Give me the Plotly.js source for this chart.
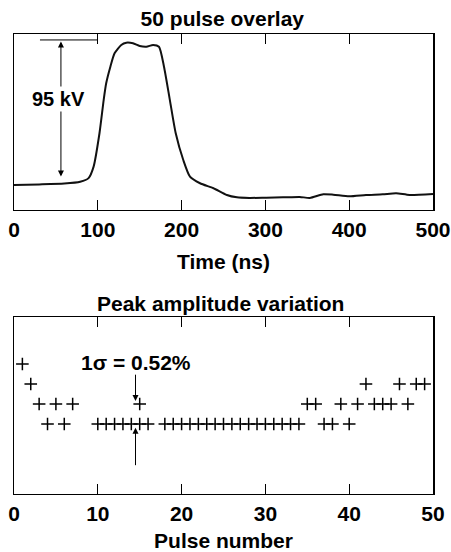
<!DOCTYPE html>
<html>
<head>
<meta charset="utf-8">
<script src="https://cdn.plot.ly/plotly-3.0.1.min.js"></script>
<style>html,body{margin:0;padding:0;background:#fff;}#chart{width:451px;height:552px;}</style>
</head>
<body>
<div id="chart"></div>
<script>
// Top panel: 50 pulse overlay (time in ns, voltage in kV relative to baseline)
const timeNs = [0, 30, 60, 79, 89, 95, 102, 107, 110, 115, 120, 128, 134, 142, 150, 158, 166, 173, 179, 186, 193, 202, 210, 222, 238, 254, 266, 281, 301, 321, 341, 353, 369, 381, 400, 420, 440, 456, 472, 500];
const voltageKV = [-0.7, -0.3, 0.3, 1.5, 4, 11.8, 34.5, 57.1, 68.5, 79.8, 88.9, 94.6, 96.1, 95.7, 93.9, 93.4, 94.6, 93.4, 79.8, 57.1, 34.5, 16.3, 5.0, 0.5, -2.9, -7.5, -9.1, -9.5, -9.3, -9.1, -8.8, -9.5, -7.0, -7.3, -8.4, -7.5, -7.0, -6.3, -7.5, -6.8];
const timeTicks = [0, 100, 200, 300, 400, 500];

// Bottom panel: peak amplitude variation (deviation in %, lowest row = 0)
const pulseNumber = [1, 2, 3, 4, 5, 6, 7, 10, 11, 12, 13, 14, 15, 16, 15,
  18, 19, 20, 21, 22, 23, 24, 25, 26, 27, 28, 29, 30, 31, 32, 33, 34,
  35, 36, 37, 38, 39, 40, 41, 42, 43, 44, 45, 46, 47, 48, 49];
const peakDeviation = [1.56, 1.04, 0.52, 0, 0.52, 0, 0.52, 0, 0, 0, 0, 0, 0, 0, 0.52,
  0, 0, 0, 0, 0, 0, 0, 0, 0, 0, 0, 0, 0, 0, 0, 0, 0,
  0.52, 0.52, 0, 0, 0.52, 0, 0.52, 1.04, 0.52, 0.52, 0.52, 1.04, 0.52, 1.04, 1.04];
const pulseTicks = [0, 10, 20, 30, 40, 50];

const FONT = 'Liberation Sans, Arial, sans-serif';
const boldFont = (size) => ({family: FONT, size: size, color: '#000', weight: 'bold'});

const traces = [
  {x: timeNs, y: voltageKV, type: 'scatter', mode: 'lines', xaxis: 'x', yaxis: 'y',
   line: {color: '#111', width: 2, shape: 'spline', smoothing: 0.6}, hoverinfo: 'skip', showlegend: false},
  {x: pulseNumber, y: peakDeviation, type: 'scatter', mode: 'markers', xaxis: 'x2', yaxis: 'y2',
   marker: {symbol: 'cross-thin', size: 9, line: {color: '#000', width: 1.5}}, showlegend: false}
];

const xCommon = {
  showline: true, mirror: 'ticks', linecolor: '#000', linewidth: 1.5,
  ticks: 'inside', ticklen: 10, tickwidth: 1, tickcolor: '#000',
  showgrid: false, zeroline: false, tickfont: boldFont(21), tickmode: 'array'
};
const yCommon = {
  showline: true, mirror: true, linecolor: '#000', linewidth: 1.5,
  ticks: '', showticklabels: false, showgrid: false, zeroline: false
};

const layout = {
  width: 451, height: 552,
  margin: {l: 14, r: 18, t: 0, b: 0},
  paper_bgcolor: '#fff', plot_bgcolor: '#fff',
  title: {text: '50 pulse overlay', font: boldFont(21), x: 0.493, xanchor: 'center', y: 1 - 19 / 552, yanchor: 'middle', yref: 'container'},
  xaxis: Object.assign({}, xCommon, {domain: [0, 1], range: [0, 500], tickvals: timeTicks, ticktext: timeTicks.map(String), anchor: 'y',
    title: {text: 'Time (ns)', font: boldFont(21), standoff: 14}}),
  yaxis: Object.assign({}, yCommon, {domain: [0.6196, 0.9384], range: [-17.69, 102.04], anchor: 'x'}),
  xaxis2: Object.assign({}, xCommon, {domain: [0, 1], range: [0, 50], tickvals: pulseTicks, ticktext: pulseTicks.map(String), anchor: 'y2',
    title: {text: 'Pulse number', font: boldFont(21), standoff: 15}}),
  yaxis2: Object.assign({}, yCommon, {domain: [0.1051, 0.4257], range: [-1.82, 2.78], anchor: 'x2'}),
  shapes: [
    {type: 'line', xref: 'x', yref: 'y', x0: 31, x1: 100, y0: 98, y1: 98, line: {color: '#000', width: 1}}
  ],
  annotations: [
    {text: 'Peak amplitude variation', xref: 'paper', yref: 'paper', x: 0.493, y: 1 - 303 / 552, xanchor: 'center', yanchor: 'middle', showarrow: false, font: boldFont(21)},
    {text: '', xref: 'x', yref: 'y', x: 56, y: 97, axref: 'x', ayref: 'y', ax: 56, ay: 4,
     showarrow: true, arrowhead: 2, startarrowhead: 2, arrowside: 'end+start', arrowsize: 1.2, arrowwidth: 1, arrowcolor: '#000'},
    {text: '95 kV', xref: 'x', yref: 'y', x: 52.5, y: 58, xanchor: 'center', yanchor: 'middle', showarrow: false,
     font: boldFont(20), bgcolor: '#fff'},
    {text: '1σ = 0.52%', xref: 'x2', yref: 'y2', x: 14.6, y: 1.59, xanchor: 'center', yanchor: 'middle', showarrow: false, font: boldFont(21)},
    {text: '', xref: 'x2', yref: 'y2', x: 14.5, y: 0.6, axref: 'x2', ayref: 'y2', ax: 14.5, ay: 1.32,
     showarrow: true, arrowhead: 2, arrowsize: 1.2, arrowwidth: 1, arrowcolor: '#000'},
    {text: '', xref: 'x2', yref: 'y2', x: 14.5, y: -0.1, axref: 'x2', ayref: 'y2', ax: 14.5, ay: -1.11,
     showarrow: true, arrowhead: 2, arrowsize: 1.2, arrowwidth: 1, arrowcolor: '#000'}
  ]
};

Plotly.newPlot('chart', traces, layout, {staticPlot: true, displayModeBar: false});
</script>
</body>
</html>
